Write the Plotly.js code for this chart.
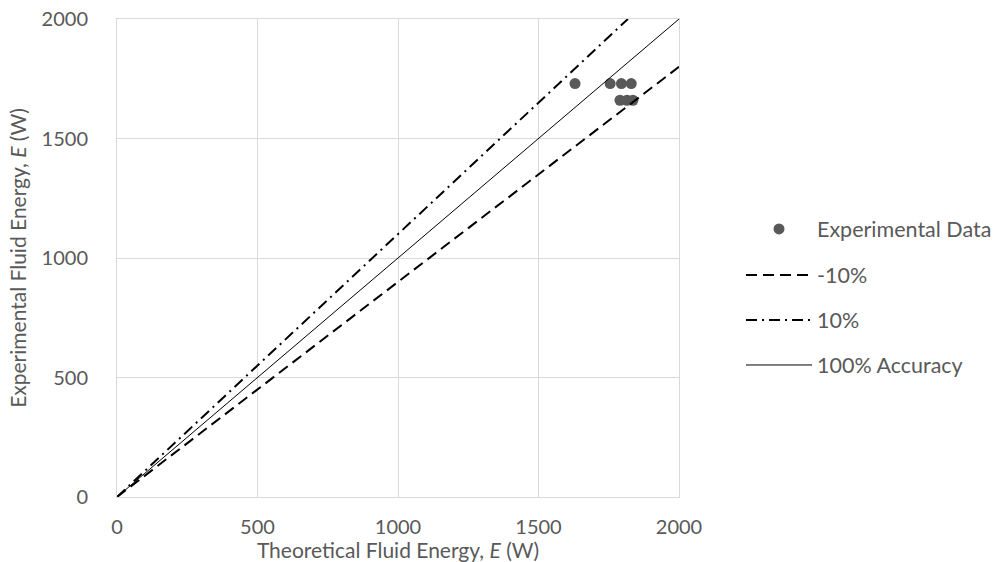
<!DOCTYPE html>
<html><head><meta charset="utf-8">
<script src="https://cdn.plot.ly/plotly-3.0.1.min.js"></script>
<style>html,body{margin:0;padding:0;background:#fff}</style>
</head><body>
<div id="chart" style="width:1007px;height:562px"></div>
<script>
// Experimental data
const theoretical = [1630, 1755, 1795, 1830, 1790, 1815, 1836];
const experimental = [1730, 1730, 1730, 1730, 1660, 1660, 1660];
// Reference lines
const lineX = [0, 2000];
const minusTenX = [0, 2000];
const minusTenY = [0, 1800];
const plusTenX = [0, 1818.2];
const plusTenY = [0, 2000];
const perfectY = [0, 2000];
const tickVals = [0, 500, 1000, 1500, 2000];

const grey = '#595959';
const fontFam = 'Lato, "Open Sans", sans-serif';

const traces = [
  {x: theoretical, y: experimental, type: 'scatter', mode: 'markers', name: 'Experimental Data',
   marker: {color: grey, size: 11}, legend: 'legend'},
  {x: minusTenX, y: minusTenY, type: 'scatter', mode: 'lines', name: '-10%',
   line: {color: '#000', width: 2, dash: '11px,6px'}, legend: 'legend2'},
  {x: plusTenX, y: plusTenY, type: 'scatter', mode: 'lines', name: '10%',
   line: {color: '#000', width: 2, dash: '11px,5px,2px,5px'}, legend: 'legend3'},
  {x: lineX, y: perfectY, type: 'scatter', mode: 'lines', name: '100% Accuracy',
   line: {color: '#000', width: 1}, legend: 'legend4'}
];

function leg(ypx) {
  return {x: 741/1007, y: 1 - ypx/562, xref: 'container', yref: 'container', yanchor: 'middle', xanchor: 'left',
    font: {family: fontFam, size: 21.5, color: grey}, bgcolor: 'rgba(0,0,0,0)', itemwidth: 66};
}

const layout = {
  width: 1007, height: 562,
  margin: {l: 117, r: 328, t: 19, b: 65},
  paper_bgcolor: '#fff', plot_bgcolor: '#fff',
  font: {family: fontFam, color: grey, size: 20},
  showlegend: true,
  legend: leg(229), legend2: leg(275), legend3: leg(320), legend4: leg(365),
  xaxis: {range: [0, 2000], tickvals: tickVals, showgrid: true, gridcolor: '#d9d9d9', gridwidth: 1,
    zeroline: false, showline: true, linecolor: '#d9d9d9', mirror: true, ticks: '',
    tickfont: {size: 20, color: grey}, ticklabelstandoff: 12,
    title: {text: 'Theoretical Fluid Energy, <i>E</i> (W)', font: {size: 21, color: grey}, standoff: 2}},
  yaxis: {range: [0, 2000], tickvals: tickVals, showgrid: true, gridcolor: '#d9d9d9', gridwidth: 1,
    zeroline: false, showline: true, linecolor: '#d9d9d9', mirror: true, ticks: '',
    tickfont: {size: 20, color: grey}, ticklabelstandoff: 24,
    title: {text: 'Experimental Fluid Energy, <i>E</i> (W)', font: {size: 21, color: grey}, standoff: 9}}
};

Plotly.newPlot('chart', traces, layout, {displayModeBar: false, staticPlot: true});
</script>
</body></html>
